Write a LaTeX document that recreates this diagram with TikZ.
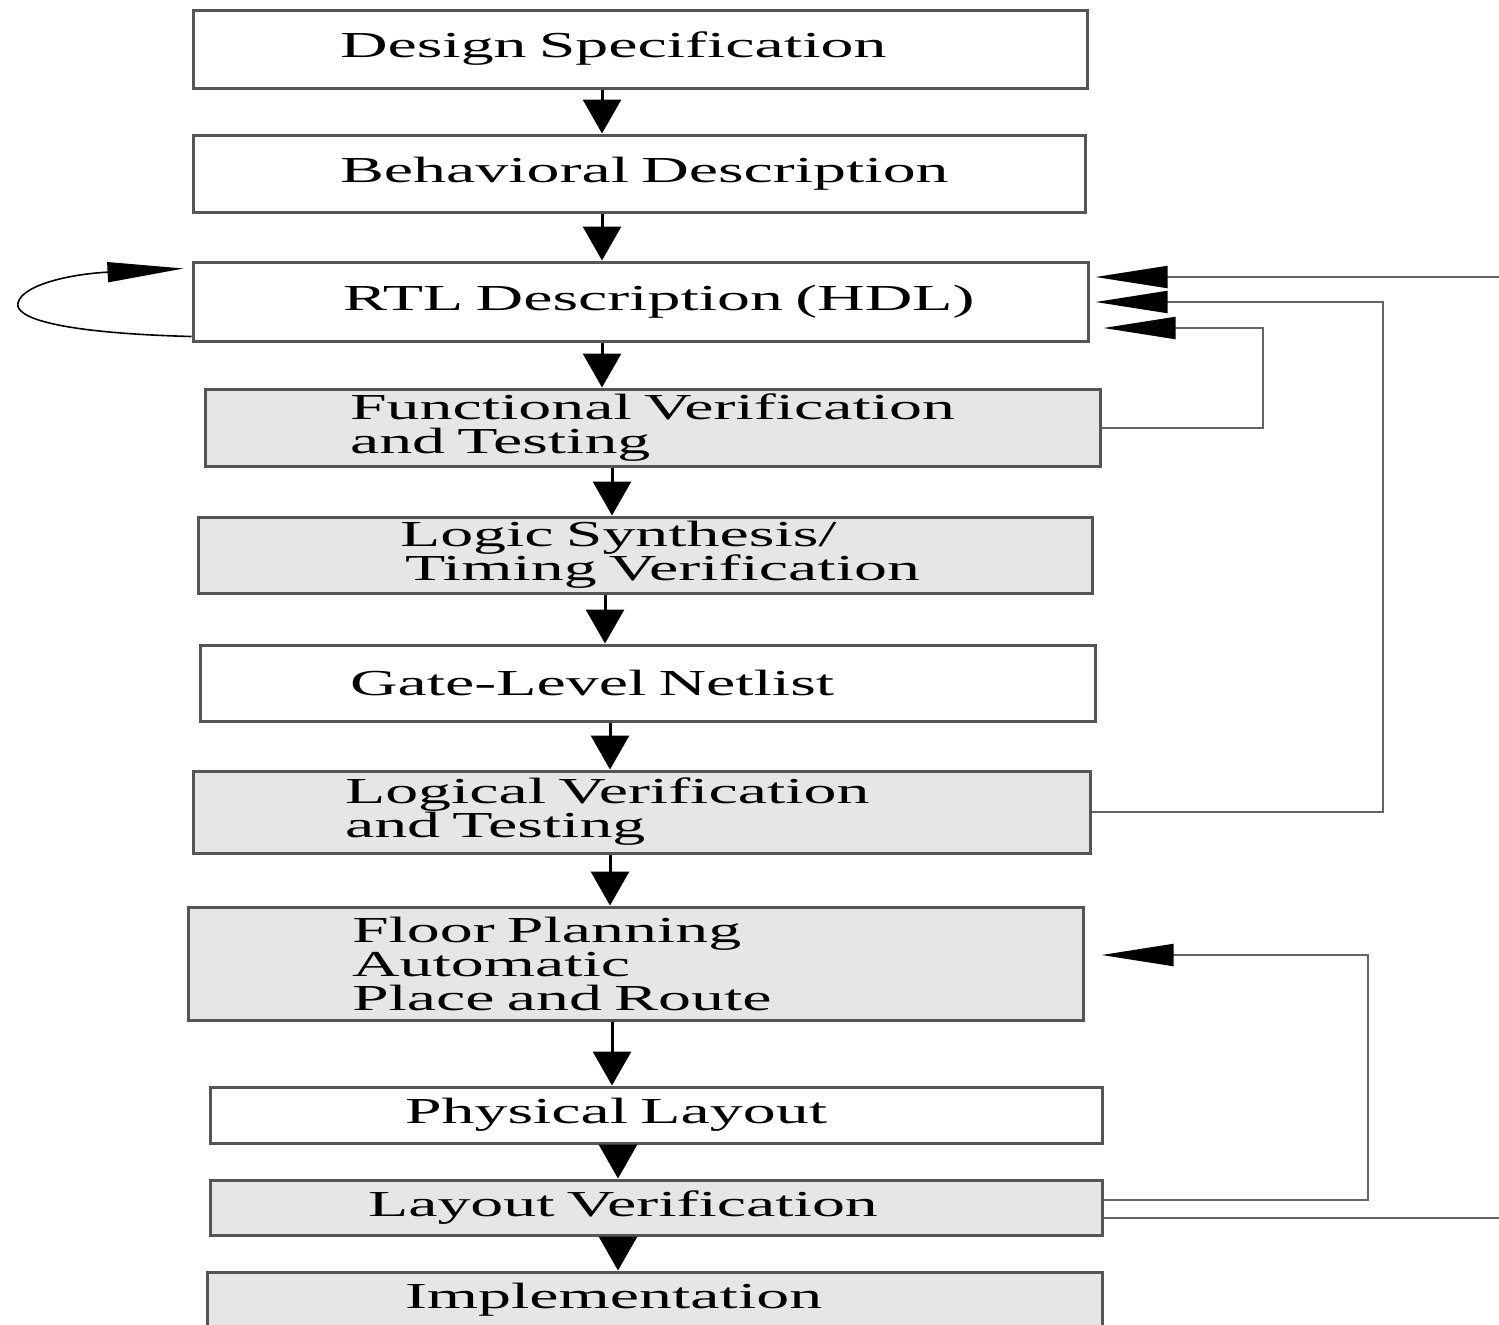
\documentclass[tikz,border=0pt]{standalone}
\usepackage{fontspec}
\setmainfont{Liberation Serif}
\newfontfamily\boxfont[FakeStretch=1.8]{Liberation Serif}
\usetikzlibrary{arrows.meta}

\definecolor{boxline}{RGB}{85,85,85}
\definecolor{boxfill}{RGB}{230,230,230}
\definecolor{backline}{RGB}{100,100,100}

\tikzset{
  stage/.style={draw=boxline, line width=1.5pt, inner sep=0pt, align=left,
    font={\boxfont\fontsize{18.3pt}{17pt}\selectfont}},
  plainbox/.style={stage, fill=white},
  shadedbox/.style={stage, fill=boxfill},
  flow/.style={line width=1.5pt, -{Triangle[length=17pt,width=19pt]}},
  backpath/.style={line width=1pt, draw=backline},
  back/.style={backpath, -{Triangle[length=36pt,width=11pt,black]}},
  selfloop/.style={line width=0.8pt, -{Triangle[length=38pt,width=10pt]}},
}

\begin{document}
\begin{tikzpicture}[x=0.5pt,y=-0.5pt]
\useasboundingbox (0,0) rectangle (1499,1324);

% design flow stages
\node[plainbox, minimum height=39pt, text width=447pt] (ds) at (640,49)
  {\hspace*{73.5pt}Design Specification};
\node[plainbox, minimum height=38.5pt, text width=446pt] (bd) at (639,173.5)
  {\hspace*{73.5pt}Behavioral Description};
\node[plainbox, minimum height=39.5pt, text width=447.5pt] (rtl) at (640.5,301.5)
  {\hspace*{75pt}RTL Description (HDL)};
\node[shadedbox, minimum height=38.5pt, text width=447.5pt] (fv) at (652.5,427.5)
  {\hspace*{72.5pt}Functional Verification\\\hspace*{72.5pt}and Testing};
\node[shadedbox, minimum height=38pt, text width=447pt] (ls) at (645,555)
  {\hspace*{101pt}Logic Synthesis/\\\hspace*{103.5pt}Timing Verification};
\node[plainbox, minimum height=38pt, text width=447.5pt] (gl) at (647.5,683)
  {\hspace*{75pt}Gate-Level Netlist};
\node[shadedbox, minimum height=41pt, text width=448.5pt] (lv) at (641.5,812)
  {\hspace*{76pt}Logical Verification\\\hspace*{76pt}and Testing};
\node[shadedbox, minimum height=56.5pt, text width=447.5pt] (fp) at (635.5,963.5)
  {\hspace*{82pt}Floor Planning\\\hspace*{82pt}Automatic\\\hspace*{82pt}Place and Route};
\node[plainbox, minimum height=28pt, text width=446pt] (pl) at (656,1115)
  {\hspace*{97.5pt}Physical Layout};
\node[shadedbox, minimum height=27.5pt, text width=446pt] (lay) at (656,1207.5)
  {\hspace*{79pt}Layout Verification};
\node[shadedbox, minimum height=28pt, text width=447.5pt] (imp) at (654.5,1300)
  {\hspace*{99pt}Implementation};

% downward flow between stages
\foreach \a/\b/\x in {ds/bd/602, bd/rtl/602, rtl/fv/602, fv/ls/612, ls/gl/605,
                      gl/lv/610, lv/fp/610, fp/pl/612, pl/lay/618, lay/imp/618}{
  \coordinate (cx) at (\x,0);
  \draw[flow] (\a.south -| cx) -- (\b.north -| cx);
}

% feedback loops
\coordinate (edgeTop) at (1499,277);
\coordinate (edgeBot) at (1499,1218);
\coordinate (turnB) at (1383,302);
\coordinate (turnC) at (1263,328);
\coordinate (turnD) at (1368,955);

\draw[back] (edgeTop) -- ([xshift=3pt]rtl.east |- edgeTop);
\draw[backpath] (lay.east |- edgeBot) -- (edgeBot);
\draw[back] (lv.east) -| (turnB) -- ([xshift=3pt]rtl.east |- turnB);
\draw[back] (fv.east) -| (turnC) -- ([xshift=7pt]rtl.east |- turnC);
\draw[back] ([yshift=3.75pt]lay.east) -| (turnD) -- ([xshift=8.5pt]fp.east |- turnD);

% iteration loop on the RTL stage
\draw[selfloop] ([yshift=3pt]rtl.south west) .. controls (60,333) and (14,318) .. (18,303)
  .. controls (22,285) and (70,274) .. ([xshift=-4pt,yshift=-4pt]rtl.north west);
\end{tikzpicture}
\end{document}
